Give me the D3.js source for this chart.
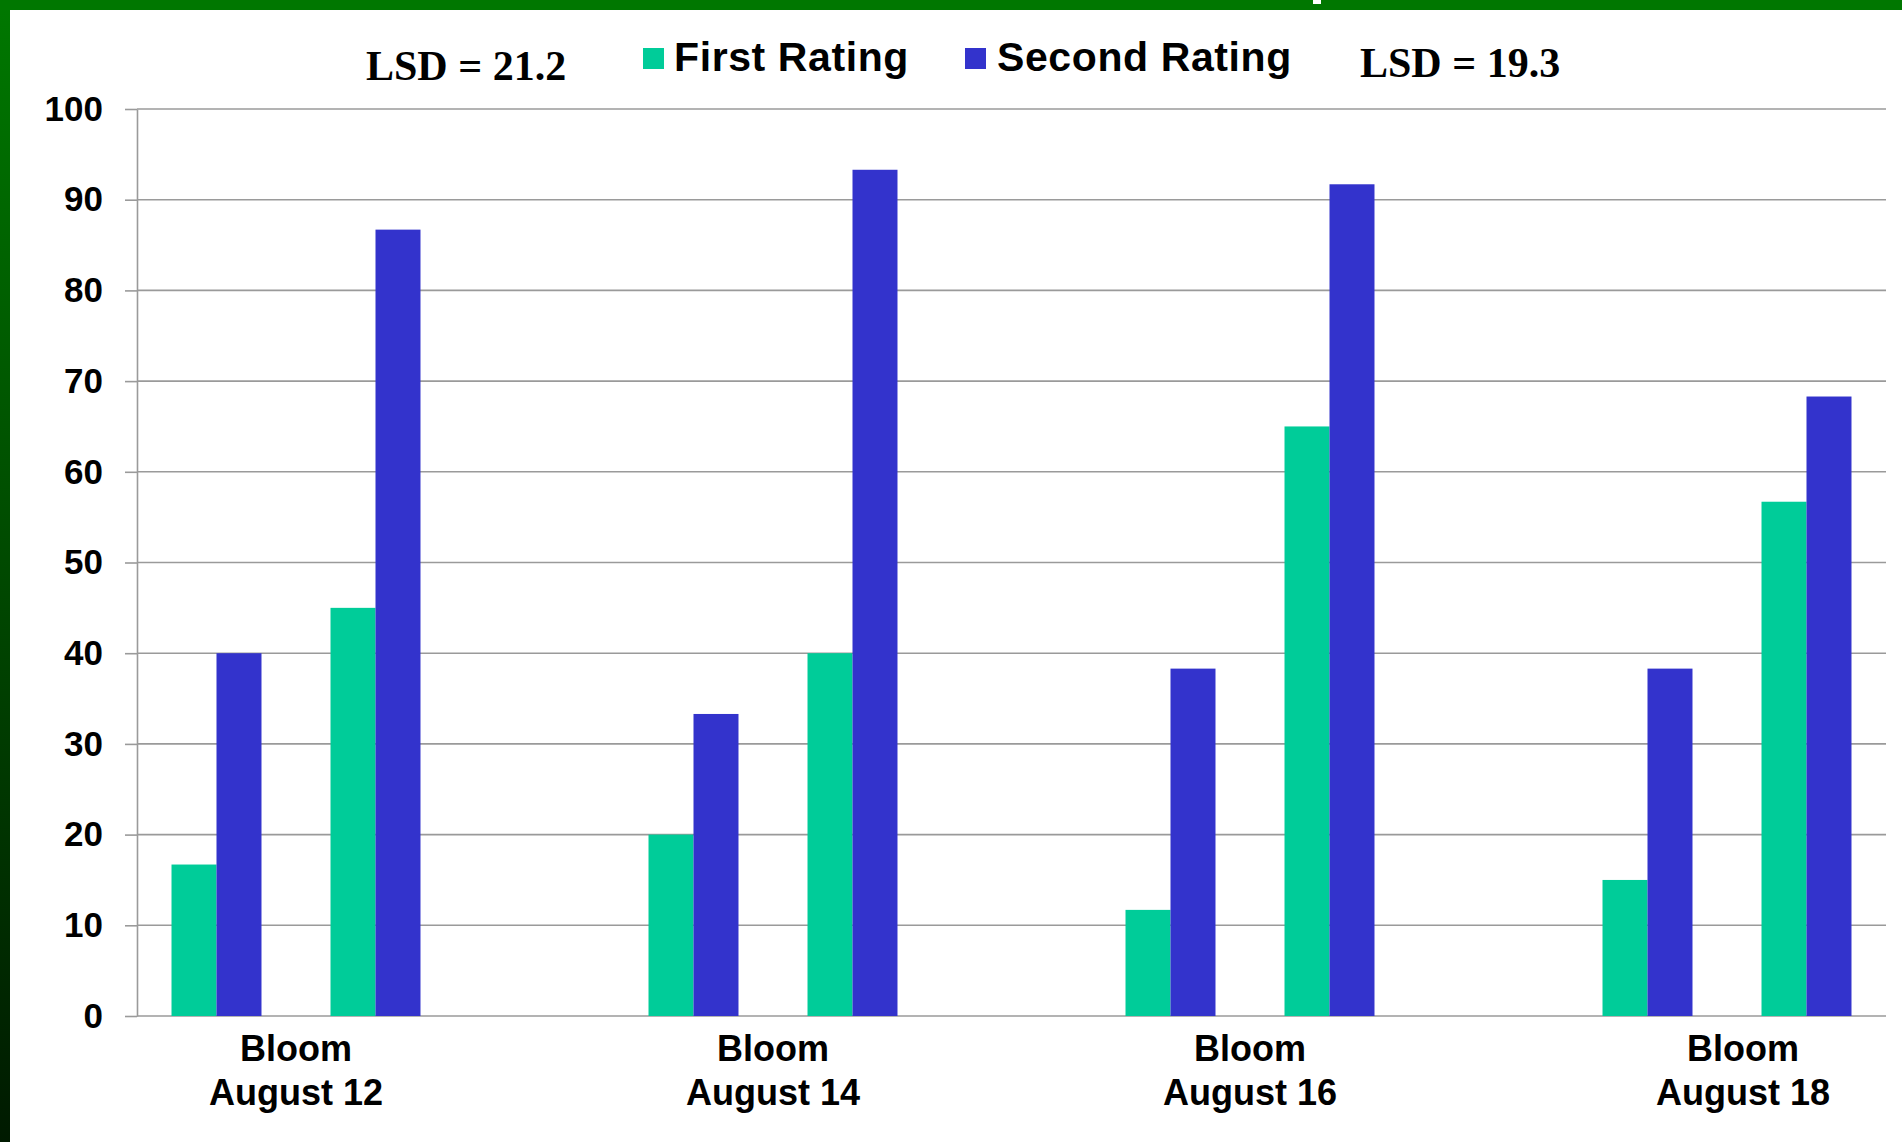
<!DOCTYPE html>
<html>
<head>
<meta charset="utf-8">
<script src="https://cdn.jsdelivr.net/npm/d3@7"></script>
<style>
  html, body { margin: 0; padding: 0; background: #fff; }
  svg { display: block; }
  .axis text { font-family: 'Liberation Sans', Arial, sans-serif; font-weight: bold; font-size: 35px; fill: #000; }
  .axis path, .axis line { stroke: #9a9a9a; stroke-width: 1.6px; }
</style>
</head>
<body>
<div class="chart"></div>
<script>
// values
const dates = ['August 12', 'August 14', 'August 16', 'August 18']
const firstRatingA = [16.7, 20, 11.7, 15]
const secondRatingA = [40, 33.3, 38.3, 38.3]
const firstRatingB = [45, 40, 65, 56.7]
const secondRatingB = [86.7, 93.3, 91.7, 68.3]
const yTicks = [0, 10, 20, 30, 40, 50, 60, 70, 80, 90, 100]
const seriesNames = ['First Rating', 'Second Rating']
const seriesKeys = ['first', 'second']
const seriesColors = ['#00cc99', '#3333cc']
const lsdLabels = ['LSD = 21.2', 'LSD = 19.3']

const W = 1902
const H = 1142
const margin = {top: 109, right: 16, bottom: 126, left: 137}

// 11 slots: two bar pairs per date, an empty slot between dates
const slots = []
dates.forEach((d, i) => {
  slots.push({key: d + '-a', first: firstRatingA[i], second: secondRatingA[i]})
  slots.push({key: d + '-b', first: firstRatingB[i], second: secondRatingB[i]})
  if (i < dates.length - 1) slots.push({key: 'gap-' + i})
})

const svg = d3.select('.chart')
  .append('svg')
  .attr('width', W)
  .attr('height', H)

// frame
const grad = svg.append('defs').append('linearGradient')
  .attr('id', 'side')
  .attr('x1', 0).attr('y1', 0).attr('x2', 0).attr('y2', 1)
grad.append('stop').attr('offset', '0%').attr('stop-color', '#007800')
grad.append('stop').attr('offset', '100%').attr('stop-color', '#001a00')

svg.append('rect').attr('width', W).attr('height', H).attr('fill', '#fff')
svg.append('rect').attr('x', 0).attr('y', 0).attr('width', 10).attr('height', H).attr('fill', 'url(#side)')
svg.append('rect').attr('x', 0).attr('y', 0).attr('width', W).attr('height', 10).attr('fill', '#007700')
svg.append('rect').attr('x', 1313).attr('y', 0).attr('width', 8).attr('height', 4).attr('fill', '#fff')

const x0 = d3.scaleBand()
  .domain(slots.map(d => d.key))
  .range([margin.left, W - margin.right])
  .padding(0)

const x1 = d3.scaleBand()
  .domain(seriesKeys)
  .range([0, x0.bandwidth()])
  .paddingInner(0)
  .paddingOuter(0.767)

const y = d3.scaleLinear()
  .domain([0, 100])
  .range([H - margin.bottom, margin.top])

// gridlines
svg.append('g')
  .selectAll('line')
  .data(yTicks)
  .enter()
  .append('line')
  .attr('x1', margin.left)
  .attr('x2', W - margin.right)
  .attr('y1', d => y(d))
  .attr('y2', d => y(d))
  .style('stroke', '#9a9a9a')
  .style('stroke-width', '1.6px')

// bars
const groups = svg.append('g')
  .selectAll('g')
  .data(slots.filter(d => d.first !== undefined))
  .enter()
  .append('g')
  .attr('transform', d => 'translate(' + x0(d.key) + ',0)')

groups.selectAll('rect')
  .data(d => seriesKeys.map((k, i) => ({key: k, value: d[k], color: seriesColors[i]})))
  .enter()
  .append('rect')
  .attr('x', d => x1(d.key))
  .attr('width', x1.bandwidth())
  .attr('y', d => y(d.value))
  .attr('height', d => y(0) - y(d.value))
  .attr('fill', d => d.color)

// y axis
svg.append('g')
  .attr('class', 'axis')
  .attr('transform', 'translate(' + margin.left + ',0)')
  .call(d3.axisLeft(y).tickValues(yTicks).tickSize(12).tickSizeOuter(0).tickPadding(22))

// category labels, centred on each date's bars
const labels = svg.append('g')
  .selectAll('text')
  .data(dates)
  .enter()
  .append('text')
  .attr('x', (d, i) => x0(d + '-b') + (i === dates.length - 1 ? 16 : 0))
  .attr('y', H - margin.bottom + 45)
  .style('text-anchor', 'middle')
  .style('font-family', "'Liberation Sans', Arial, sans-serif")
  .style('font-weight', 'bold')
  .style('font-size', '36px')
  .style('fill', '#000')
labels.append('tspan').text('Bloom')
labels.append('tspan')
  .attr('x', function() { return d3.select(this.parentNode).attr('x') })
  .attr('dy', 44)
  .text(d => d)

// legend
const legendX = [643, 965]
const legend = svg.append('g')
  .selectAll('g')
  .data(seriesNames)
  .enter()
  .append('g')
  .attr('transform', (d, i) => 'translate(' + legendX[i] + ',48)')
legend.append('rect')
  .attr('width', 21)
  .attr('height', 21)
  .attr('fill', (d, i) => seriesColors[i])
legend.append('text')
  .attr('x', (d, i) => i === 0 ? 31 : 32)
  .attr('y', 23)
  .style('font-family', "'Liberation Sans', Arial, sans-serif")
  .style('font-weight', 'bold')
  .style('font-size', '41px')
  .style('letter-spacing', '0.6px')
  .style('fill', '#000')
  .text(d => d)

// LSD notes
const lsdPos = [[366, 80], [1360, 77]]
svg.append('g')
  .selectAll('text')
  .data(lsdLabels)
  .enter()
  .append('text')
  .attr('x', (d, i) => lsdPos[i][0])
  .attr('y', (d, i) => lsdPos[i][1])
  .style('font-family', "'Liberation Serif', 'Times New Roman', serif")
  .style('font-weight', 'bold')
  .style('font-size', '42px')
  .style('fill', '#000')
  .text(d => d)
</script>
</body>
</html>
